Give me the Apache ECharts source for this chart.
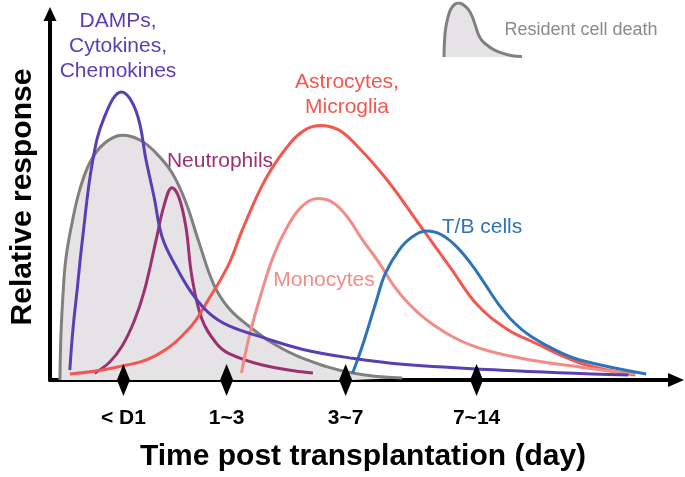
<!DOCTYPE html>
<html>
<head>
<meta charset="utf-8">
<script src="https://cdn.jsdelivr.net/npm/echarts@6/dist/echarts.min.js"></script>
<style>html,body{margin:0;padding:0;background:#fff}#c{width:685px;height:477px}</style>
</head>
<body>
<div id="c"></div>
<script>
// ---- data (x: time units, y: relative response units) ----
const deathX = [10,11,13,16,22,30,41,55,73,91,107,123,137,150,165,180,200,225,255,305,355];
const deathY = [0,45,85,123,158,193,222,240,248,243,230,210,180,140,97,73,55,37,22,7,2];

const dampsX = [20,23,27,33,43,55,72,87,97,105,113,127,143,160,180,215,255,305,355,455,583];
const dampsY = [10,50,88,145,222,267,292,272,222,185,145,115,88,68,55,43,31,22,16,10,5];

const neutX = [45,60,73,85,95,107,115,123,130,137,143,153,167,180,215,265];
const neutY = [7,18,35,60,90,142,177,195,185,155,105,62,38,27,15,7];

const astroX = [20,67,107,140,160,180,195,218,242,258,273,290,305,338,372,405,430,460,488,535,590];
const astroY = [6,13,25,52,82,117,155,205,240,254,258,254,242,205,158,112,77,52,38,17,5];

const monoX = [193,201,213,225,238,253,270,285,300,315,331,347,362,385,425,475,535,590];
const monoY = [7,45,88,125,153,175,184,180,165,142,120,95,77,57,35,22,13,6];

const tbX = [305,315,328,338,352,365,380,395,410,425,438,452,468,485,510,535,601];
const tbY = [7,35,77,108,132,145,151,147,135,117,98,77,58,44,30,20,6];

const tickX = [74,178,298,430];
const tickLabels = ['< D1','1~3','3~7','7~14'];

const seriesNames = ['Resident cell death','DAMPs, Cytokines, Chemokines','Neutrophils','Astrocytes, Microglia','Monocytes','T/B cells'];

// ---- build ----
const zip = (xs, ys) => xs.map((x, i) => [x, ys[i]]);
const FONT = '"Liberation Sans", Arial, Helvetica, sans-serif';
const C = {
  death: '#808080', deathFill: '#e5e3e5',
  damps: '#5a3fb3', neut: '#9c3171', astro: '#f4574f', mono: '#f38b86', tb: '#2e74b6'
};
const SMOOTH = 0.4;

function line(name, data, color, z) {
  return {
    type: 'line', name: name, data: data, smooth: SMOOTH,
    showSymbol: false, xAxisIndex: 0, yAxisIndex: 0, z: z,
    lineStyle: { color: color, width: 3 }
  };
}

const chart = echarts.init(document.getElementById('c'), null, { renderer: 'canvas' });
chart.setOption({
  animation: false,
  backgroundColor: '#fff',
  grid: [
    { left: 45, right: 9, top: 14, bottom: 92 },
    { left: 444, top: 3, width: 78, height: 54 }
  ],
  xAxis: [
    {
      type: 'value', min: 0, max: 631, gridIndex: 0,
      axisLine: { show: true, lineStyle: { color: '#000', width: 4 }, symbol: ['none', 'triangle'], symbolSize: [14, 16] },
      axisTick: { show: false }, splitLine: { show: false },
      axisLabel: {
        show: true, customValues: tickX, margin: 28,
        formatter: v => tickLabels[tickX.indexOf(v)] || '',
        fontFamily: FONT, fontSize: 21, fontWeight: 'bold', color: '#000'
      },
      name: 'Time post transplantation (day)', nameLocation: 'middle', nameGap: 62,
      nameTextStyle: { fontFamily: FONT, fontSize: 30, fontWeight: 'bold', color: '#000' }
    },
    { type: 'value', min: 10, max: 355, gridIndex: 1, show: false }
  ],
  yAxis: [
    {
      type: 'value', min: 0, max: 371, gridIndex: 0,
      axisLine: { show: true, lineStyle: { color: '#000', width: 4 }, symbol: ['none', 'triangle'], symbolSize: [13, 14] },
      axisTick: { show: false }, axisLabel: { show: false }, splitLine: { show: false },
      name: 'Relative response', nameLocation: 'middle', nameGap: 12,
      nameTextStyle: { fontFamily: FONT, fontSize: 30, fontWeight: 'bold', color: '#000' }
    },
    { type: 'value', min: 0, max: 248, gridIndex: 1, show: false }
  ],
  series: [
    {
      type: 'line', name: seriesNames[0], data: zip(deathX, deathY), smooth: SMOOTH,
      showSymbol: false, z: 1, lineStyle: { color: C.death, width: 3 },
      areaStyle: { color: C.deathFill, opacity: 1 }
    },
    line(seriesNames[2], zip(neutX, neutY), C.neut, 3),
    line(seriesNames[1], zip(dampsX, dampsY), C.damps, 4),
    line(seriesNames[3], zip(astroX, astroY), C.astro, 3),
    line(seriesNames[4], zip(monoX, monoY), C.mono, 3),
    line(seriesNames[5], zip(tbX, tbY), C.tb, 3),
    {
      type: 'scatter', name: 'ticks', clip: false, z: 10,
      data: tickX.map((x, i) => ({ value: [x, 0], name: tickLabels[i] })),
      symbol: 'diamond', symbolSize: [13, 32],
      itemStyle: { color: '#000', opacity: 1 },
      label: { show: false }
    },
    // legend icon: same resident cell death data, in a small grid
    {
      type: 'line', name: 'legend-icon', xAxisIndex: 1, yAxisIndex: 1,
      data: zip(deathX, deathY), smooth: SMOOTH, showSymbol: false,
      lineStyle: { color: C.death, width: 3 }, areaStyle: { color: C.deathFill, opacity: 1 }
    }
  ],
  graphic: [
    { type: 'text', x: 118, y: 46, style: { text: 'DAMPs,\nCytokines,\nChemokines', fill: C.damps, font: '21px ' + FONT, lineHeight: 25, align: 'center', verticalAlign: 'middle' } },
    { type: 'text', x: 220, y: 161, style: { text: 'Neutrophils', fill: C.neut, font: '21px ' + FONT, align: 'center', verticalAlign: 'middle' } },
    { type: 'text', x: 347, y: 95, style: { text: 'Astrocytes,\nMicroglia', fill: C.astro, font: '21px ' + FONT, lineHeight: 25, align: 'center', verticalAlign: 'middle' } },
    { type: 'text', x: 324, y: 280, style: { text: 'Monocytes', fill: C.mono, font: '21px ' + FONT, align: 'center', verticalAlign: 'middle' } },
    { type: 'text', x: 482, y: 227, style: { text: 'T/B cells', fill: C.tb, font: '21px ' + FONT, align: 'center', verticalAlign: 'middle' } },
    { type: 'text', x: 581, y: 30, style: { text: 'Resident cell death', fill: '#8a8a8a', font: '18px ' + FONT, align: 'center', verticalAlign: 'middle' } }
  ]
});
</script>
</body>
</html>
